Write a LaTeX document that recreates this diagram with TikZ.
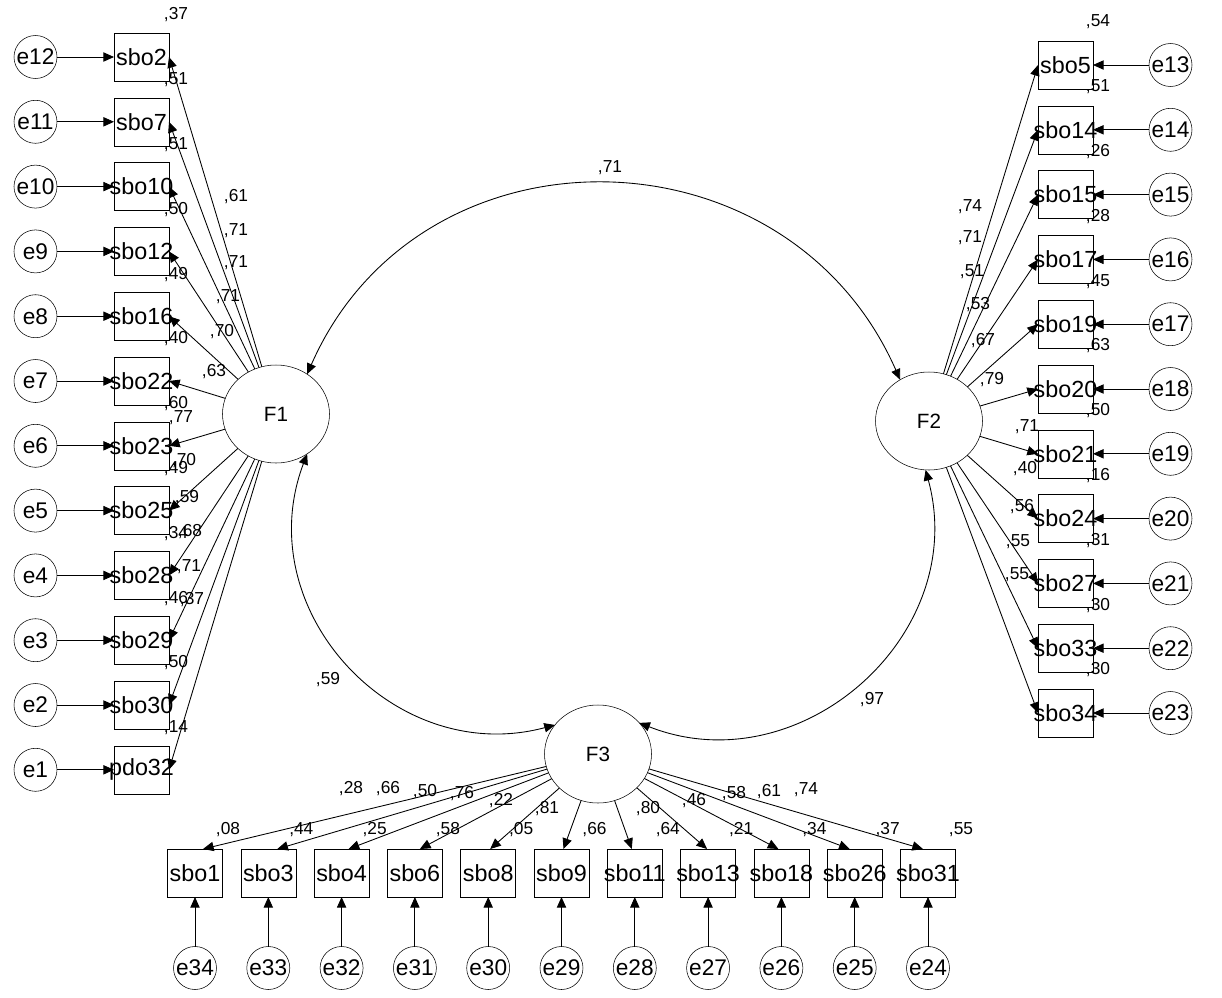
\documentclass[tikz,border=0pt]{standalone}
\usepackage{fontspec}
\setmainfont{Liberation Sans}
\usetikzlibrary{arrows.meta, shapes.geometric, positioning}

\begin{document}
\begin{tikzpicture}[x=0.75pt, y=-0.75pt,
    obs/.style={rectangle, draw, minimum width=41.25pt, minimum height=36pt, inner sep=0pt, outer sep=0pt, font=\fontsize{17.5}{18}\selectfont},
    err/.style={circle, draw, minimum size=32.25pt, inner sep=0pt, outer sep=0pt, font=\fontsize{17}{18}\selectfont},
    lat/.style={ellipse, draw, minimum width=80.25pt, minimum height=73.5pt, inner sep=0pt, outer sep=0pt, font=\fontsize{15.5}{18}\selectfont},
    lbl/.style={inner sep=0pt, font=\fontsize{13}{14}\selectfont},
    arrow/.style={line width=0.65pt, -{Triangle[length=8pt, width=7pt]}},
    cov/.style={line width=0.65pt, {Triangle[length=8pt, width=7pt]}-{Triangle[length=8pt, width=7pt]}}]
    \fill[white] (0,0) rectangle (1222,997);
    \useasboundingbox (0,0) rectangle (1222,997);

    % latent factors
    \node [lat] (F1) at (276,414) {F1};
    \node [lat] (F2) at (929,421) {F2};
    \node [lat] (F3) at (598,754) {F3};

    % F1 items (left column)
    \foreach \nm/\er/\rsq/\ld/\lx/\ly [count=\i from 0] in {sbo2/e12/37/61/236/197, sbo7/e11/51/71/236/231, sbo10/e10/51/71/236/263, sbo12/e9/50/71/228/297, sbo16/e8/49/70/222/332, sbo22/e7/40/63/214/372, sbo23/e6/60/77/181/418, sbo25/e5/49/70/184/461, sbo28/e4/34/59/187/498, sbo29/e3/46/68/190/532, sbo30/e2/50/71/189/567, pdo32/e1/14/37/192/600} {
        \node [obs] (\nm) at (141.5,57+64.8*\i) {\makebox[0pt]{\nm}};
        \node [err] (\er) at (35.5,57+64.8*\i) {\makebox[0pt]{\er}};
        \draw [arrow] (\er) -- (\nm);
        \draw [arrow] (F1) -- (\nm.east);
        \node [lbl] (r\nm) at (176,15+64.8*\i) {,\rsq};
        \node [lbl] (l\nm) at (\lx,\ly) {,\ld};
    }

    % F2 items (right column)
    \foreach \nm/\er/\rsq/\ld/\lx/\ly [count=\i from 0] in {sbo5/e13/54/74/970/207, sbo14/e14/51/71/970/238, sbo15/e15/26/51/972/272, sbo17/e16/28/53/978/305, sbo19/e17/45/67/983/341, sbo20/e18/63/79/992/380, sbo21/e19/50/71/1027/427, sbo24/e20/16/40/1025/469, sbo27/e21/31/56/1022/507, sbo33/e22/30/55/1018/542, sbo34/e23/30/55/1017/575} {
        \node [obs] (\nm) at (1065.5,65+64.8*\i) {\makebox[0pt]{\nm}};
        \node [err] (\er) at (1170.5,65+64.8*\i) {\makebox[0pt]{\er}};
        \draw [arrow] (\er) -- (\nm);
        \draw [arrow] (F2) -- (\nm.west);
        \node [lbl] (r\nm) at (1098,22+64.8*\i) {,\rsq};
        \node [lbl] (l\nm) at (\lx,\ly) {,\ld};
    }

    % F3 items (bottom row)
    \foreach \nm/\er/\rsq/\ld/\lx/\ly/\sx [count=\i from 0] in {sbo1/e34/08/28/351/789/8, sbo3/e33/44/66/388/789/9, sbo4/e32/25/50/425/792/7, sbo6/e31/58/76/462/794/5, sbo8/e30/05/22/501/801/2, sbo9/e29/66/81/547/809/2, sbo11/e28/64/80/648/809/-3, sbo13/e27/21/46/694/801/-1, sbo18/e26/34/58/734/794/-3, sbo26/e25/37/61/769/792/-5, sbo31/e24/55/74/806/790/-5} {
        \node [obs] (\nm) at (195+73.3*\i,873) {\makebox[0pt]{\nm}};
        \node [err] (\er) at (195+73.3*\i,968) {\makebox[0pt]{\er}};
        \draw [arrow] (\er) -- (\nm);
        \draw [arrow] (F3) -- ([xshift=0.75*\sx]\nm.north);
        \node [lbl] (r\nm) at (228+73.3*\i,830) {,\rsq};
        \node [lbl] (l\nm) at (\lx,\ly) {,\ld};
    }

    % factor covariances
    \draw [cov] (F1.52) .. controls +(113,-257) and +(-113,-257) .. (F2.125);
    \draw [cov] (F1.308) .. controls +(-59,156) and +(-161,43) .. (F3.146);
    \draw [cov] (F2.266) .. controls +(45,166) and +(160,63) .. (F3.37);
    \node [lbl] (c12) at (610,168) {,71};
    \node [lbl] (c13) at (328,680) {,59};
    \node [lbl] (c23) at (872,700) {,97};
\end{tikzpicture}
\end{document}
